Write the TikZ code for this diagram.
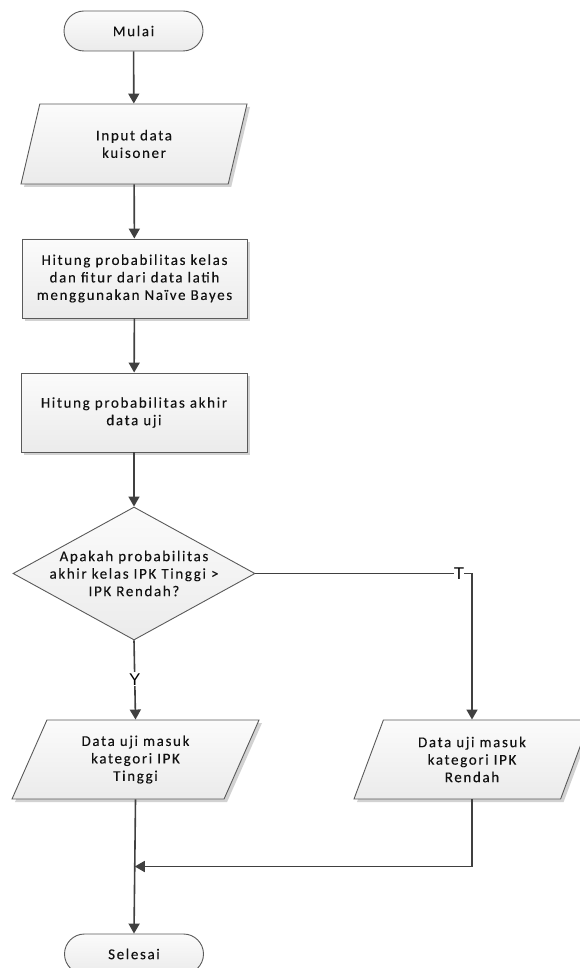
\documentclass[tikz,border=0pt]{standalone}
\usepackage{fontspec}
\setmainfont{Carlito}[LetterSpace=11, FakeBold=0.12]
\newfontfamily\labelfont{Liberation Sans}
\usetikzlibrary{shapes.geometric,arrows.meta,shadows,calc}

\definecolor{linegray}{HTML}{404040}
\definecolor{edgegray}{HTML}{5A5A5A}
\definecolor{fillhi}{HTML}{FBFBFB}
\definecolor{filllo}{HTML}{EBEBEB}
\definecolor{shadowgray}{HTML}{D2D2D2}
\definecolor{inkgray}{HTML}{111111}

\tikzset{
  base/.style={draw=edgegray, line width=0.9pt, top color=fillhi, bottom color=filllo,
    text=inkgray, align=center, font=\fontsize{15}{17.5}\selectfont, inner sep=2pt},
  softshadow/.style={drop shadow={shadow xshift=3pt, shadow yshift=-3pt, fill=shadowgray, opacity=1}},
  terminal/.style={base, rectangle, rounded corners=20pt, minimum width=139pt, minimum height=40pt},
  process/.style={base, softshadow, rectangle, minimum width=225pt, minimum height=79pt},
  iobox/.style={base, softshadow, trapezium, trapezium stretches body,
    minimum height=79pt},
  decision/.style={base, diamond, inner sep=0pt, minimum width=242pt, minimum height=133pt},
  plaintext/.style={text=inkgray, align=center, font=\fontsize{15}{17.5}\selectfont, inner sep=0pt},
  flow/.style={draw=linegray, line width=1.6pt, -{Triangle[length=10pt,width=11pt]}},
  branchlabel/.style={font=\labelfont\fontsize{17}{17}\selectfont, text=black, fill=white}
}

\begin{document}
\begin{tikzpicture}[x=1pt, y=-1pt]
  \useasboundingbox (0,0) rectangle (580,968);
  \clip (0,0) rectangle (580,968);

  % flow steps
  \node[terminal] (start) at (133.5,31) {Mulai};
  \node[iobox, trapezium left angle=59.6, trapezium right angle=120.4,
        minimum width=226pt, minimum height=80pt] (input) at (134,144) {Input data\\kuisoner};
  \node[process] (train) at (134.5,278.5) {Hitung probabilitas kelas\\dan fitur dari data latih\\menggunakan Na\"ive Bayes};
  \node[process, minimum width=226pt] (final) at (134,412.5) {Hitung probabilitas akhir\\data uji};
  \node[decision] (dec) at (134,573.5) {};
  \node[plaintext] (dectext) at (dec.center) {Apakah probabilitas\\akhir kelas IPK Tinggi >\\IPK Rendah?};
  \node[iobox, trapezium left angle=56.1, trapezium right angle=123.9,
        minimum width=247pt] (high) at (135.5,759.5) {Data uji masuk\\kategori IPK\\Tinggi};
  \node[iobox, trapezium left angle=59.3, trapezium right angle=120.7,
        minimum width=236pt] (low) at (472,759.5) {Data uji masuk\\kategori IPK\\Rendah};
  \node[terminal] (stop) at (134,954) {Selesai};

  % helper points for the bent connectors
  \coordinate (tcorner) at (low.north |- dec.east);
  \coordinate (merge) at ($(high.south)!0.5!(stop.north)$);
  \coordinate (lowturn) at (low.south |- merge);

  % connectors
  \draw[flow] (start) -- (input);
  \draw[flow] (input) -- (train);
  \draw[flow] (train) -- (final);
  \draw[flow] (final) -- (dec);
  \draw[flow] (dec.south) -- node[branchlabel, inner sep=1pt, pos=0.49] {Y} (high.north);
  \draw[flow] (dec.east) -- node[branchlabel, inner sep=0pt, pos=0.94] {T} (tcorner) -- (low.north);
  \draw[flow] (high.south) -- (stop.north);
  \draw[flow] (low.south) -- (lowturn) -- (merge);
\end{tikzpicture}
\end{document}
